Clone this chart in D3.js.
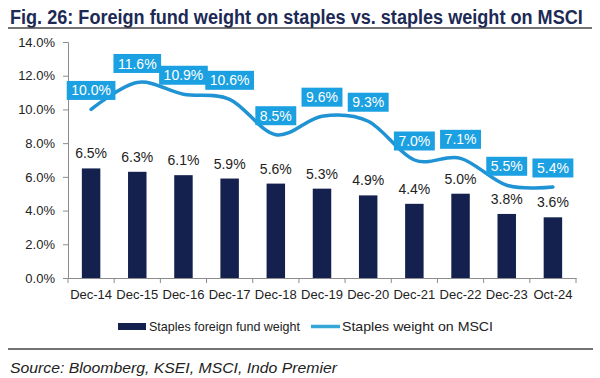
<!DOCTYPE html>
<html><head><meta charset="utf-8">
<script src="https://cdn.jsdelivr.net/npm/d3@7"></script>
<style>body{margin:0;background:#fff}svg{display:block;font-family:Arial,"Liberation Sans",sans-serif}</style>
</head><body>
<svg id="c" width="600" height="378"></svg>
<script>
const categories = ["Dec-14","Dec-15","Dec-16","Dec-17","Dec-18","Dec-19","Dec-20","Dec-21","Dec-22","Dec-23","Oct-24"];
const foreignFundWeight = [6.5,6.3,6.1,5.9,5.6,5.3,4.9,4.4,5.0,3.8,3.6];
const msciWeight = [10.0,11.6,10.9,10.6,8.5,9.6,9.3,7.0,7.1,5.5,5.4];
const yTicks = [0,2,4,6,8,10,12,14];
const seriesNames = ["Staples foreign fund weight","Staples weight on MSCI"];
const titleText = "Fig. 26: Foreign fund weight on staples vs. staples weight on MSCI";
const sourceText = "Source: Bloomberg, KSEI, MSCI, Indo Premier";

const barColor = "#14204e", lineColor = "#1f93d3", boxColor = "#1ba0e2";
const svg = d3.select("#c");

// Title (condensed horizontally to fit the reference width)
const title = svg.append("text").attr("x",0).attr("y",0)
  .attr("font-family","Arial,'Liberation Sans',sans-serif")
  .attr("font-weight","bold").attr("font-size",21).attr("fill","#1c2a55").text(titleText);
const tw = title.node().getComputedTextLength();
title.attr("transform",`translate(10,24) scale(${573/tw},1)`);
svg.append("line").attr("x1",8).attr("x2",592).attr("y1",28).attr("y2",28)
  .attr("stroke","#444").attr("stroke-width",1.5);

const x = d3.scaleBand().domain(categories).range([68,576]).padding(0);
const y = d3.scaleLinear().domain([0,14]).range([278,42]);
const bw = x.bandwidth(), barW = bw*0.4;

// Y axis
const ya = svg.append("g").attr("transform","translate(68,0)")
  .call(d3.axisLeft(y).tickValues(yTicks).tickSize(5).tickPadding(8).tickFormat(d=>d.toFixed(1)+"%"));
ya.select(".domain").attr("stroke","#8c8c8c");
ya.selectAll(".tick line").attr("stroke","#8c8c8c");
ya.selectAll("text").attr("font-size",13).attr("fill","#222").attr("font-family","Arial,'Liberation Sans',sans-serif");

// X axis
const xa = svg.append("g").attr("transform","translate(0,278)")
  .call(d3.axisBottom(x).tickSize(0).tickPadding(12));
xa.select(".domain").attr("stroke","#8c8c8c");
xa.selectAll("text").attr("font-size",13).attr("fill","#222").attr("font-family","Arial,'Liberation Sans',sans-serif");
const bounds = categories.map(c=>x(c)).concat([x(categories[categories.length-1])+bw]);
svg.append("g").selectAll("line").data(bounds).join("line")
  .attr("x1",d=>d).attr("x2",d=>d).attr("y1",278).attr("y2",283).attr("stroke","#8c8c8c");

// Bars
svg.append("g").selectAll("rect").data(foreignFundWeight).join("rect")
  .attr("x",(d,i)=>x(categories[i])+(bw-barW)/2).attr("width",barW)
  .attr("y",d=>y(d)).attr("height",d=>y(0)-y(d)).attr("fill",barColor);
svg.append("g").selectAll("text").data(foreignFundWeight).join("text")
  .attr("x",(d,i)=>x(categories[i])+bw/2).attr("y",d=>y(d)-10)
  .attr("text-anchor","middle").attr("font-size",14).attr("fill","#222")
  .text(d=>d.toFixed(1)+"%");

// Line
const line = d3.line().x((d,i)=>x(categories[i])+bw/2).y(d=>y(d)).curve(d3.curveCardinal.tension(0));
svg.append("path").datum(msciWeight).attr("d",line).attr("fill","none")
  .attr("stroke",lineColor).attr("stroke-width",3.5).attr("stroke-linecap","round");

// Line labels
const lg = svg.append("g").selectAll("g").data(msciWeight).join("g")
  .attr("transform",(d,i)=>`translate(${x(categories[i])+bw/2},${y(d)-19})`);
lg.append("rect").attr("fill",boxColor);
lg.append("text").attr("text-anchor","middle").attr("dy","0.36em")
  .attr("font-size",14).attr("fill","#fff").text(d=>d.toFixed(1)+"%");
lg.each(function(){
  const g=d3.select(this); const w=g.select("text").node().getComputedTextLength()+9;
  g.select("rect").attr("x",-w/2).attr("width",w).attr("y",-9.5).attr("height",19);
});

// Legend
svg.append("rect").attr("x",118).attr("y",323).attr("width",28).attr("height",7).attr("fill",barColor);
svg.append("text").attr("x",149).attr("y",331).attr("font-size",13).attr("fill","#222")
  .attr("textLength",151).attr("lengthAdjust","spacingAndGlyphs").text(seriesNames[0]);
svg.append("line").attr("x1",311).attr("x2",340).attr("y1",326.5).attr("y2",326.5)
  .attr("stroke","#35a6d8").attr("stroke-width",3.5);
svg.append("text").attr("x",342).attr("y",331).attr("font-size",13).attr("fill","#222")
  .attr("textLength",151).attr("lengthAdjust","spacingAndGlyphs").text(seriesNames[1]);

// Bottom rule and source
svg.append("line").attr("x1",8).attr("x2",593).attr("y1",349).attr("y2",349)
  .attr("stroke","#444").attr("stroke-width",1.5);
svg.append("text").attr("x",10).attr("y",373).attr("font-size",15).attr("font-style","italic")
  .attr("fill","#222").attr("textLength",327).attr("lengthAdjust","spacingAndGlyphs").text(sourceText);
</script>
</body></html>
